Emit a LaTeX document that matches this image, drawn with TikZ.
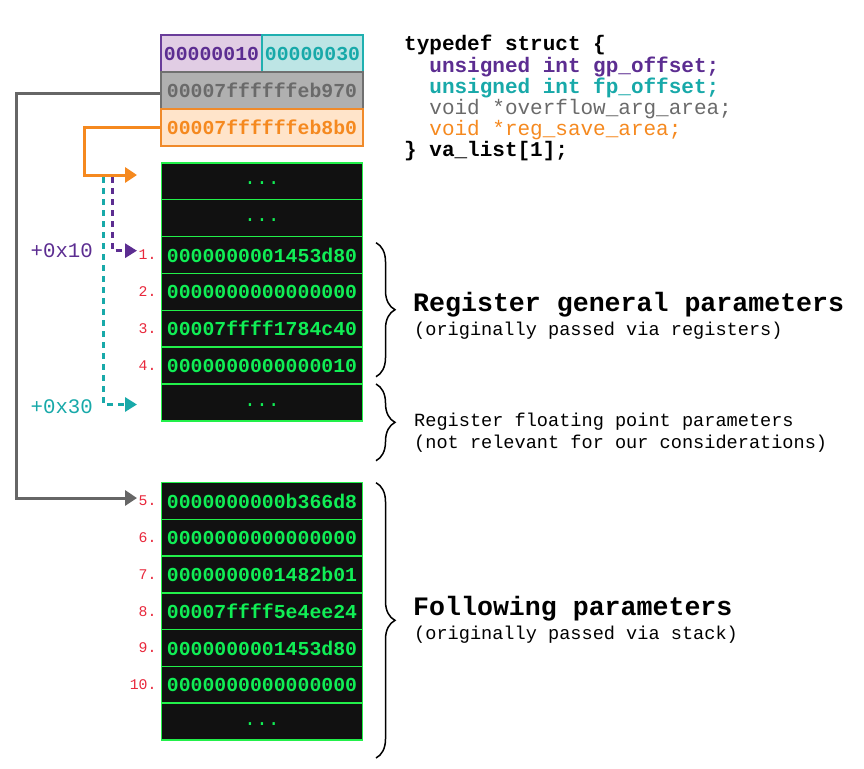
\documentclass[tikz,border=0pt]{standalone}
\usepackage{fontspec}
\setmonofont{Liberation Mono}
\usetikzlibrary{arrows.meta,decorations.pathreplacing}
\definecolor{pfill}{HTML}{E1CDE4}
\definecolor{pborder}{HTML}{6A3D9A}
\definecolor{ptext}{HTML}{5C2D91}
\definecolor{tfill}{HTML}{BDE5E5}
\definecolor{tborder}{HTML}{20B0B0}
\definecolor{ttext}{HTML}{18A9A9}
\definecolor{gfill}{HTML}{B0B0B0}
\definecolor{gborder}{HTML}{707070}
\definecolor{gtext}{HTML}{6A6A6A}
\definecolor{gline}{HTML}{666666}
\definecolor{ofill}{HTML}{FFE4CA}
\definecolor{oborder}{HTML}{F08A2A}
\definecolor{otext}{HTML}{F5891F}
\definecolor{rowblack}{HTML}{111111}
\definecolor{stackgreen}{HTML}{22F04A}
\definecolor{textgreen}{HTML}{10EE55}
\definecolor{numred}{HTML}{E8283C}
\begin{document}
\begin{tikzpicture}[x=1pt,y=-1pt,
  hexbox/.style={draw, line width=1.2pt, minimum height=37pt, inner sep=0pt,
    font=\ttfamily\bfseries\fontsize{19.8}{20}\selectfont},
  row/.style={draw=stackgreen, fill=rowblack, line width=1.6pt, minimum width=201pt,
    minimum height=36.9pt, inner sep=0pt, text=textgreen,
    font=\ttfamily\bfseries\fontsize{19.8}{20}\selectfont},
  dotrow/.style={row, font=\ttfamily\fontsize{19.8}{20}\selectfont, text height=7pt, text depth=0pt},
  num/.style={anchor=east, inner sep=0pt, text=numred, font=\ttfamily\fontsize{14.8}{15}\selectfont},
  code/.style={anchor=base west, inner sep=0pt, font=\ttfamily\bfseries\fontsize{21}{21}\selectfont},
  head/.style={anchor=base west, inner sep=0pt, font=\ttfamily\bfseries\fontsize{26.6}{27}\selectfont},
  note/.style={anchor=base west, inner sep=0pt, font=\ttfamily\fontsize{18.6}{19}\selectfont},
  offs/.style={anchor=east, inner sep=0pt, font=\ttfamily\fontsize{20.7}{21}\selectfont},
  solidarrow/.style={line width=3pt, -{Triangle[length=12pt,width=15pt]}},
  dasharrow/.style={line width=3pt, dash pattern=on 6pt off 5pt, -{Triangle[length=12pt,width=14pt]}},
  bracedeco/.style={decorate, decoration={brace, amplitude=19pt}, line width=1.5pt, black}
]
\useasboundingbox (0,0) rectangle (864,768);

% va_list boxes
\node[hexbox, draw=pborder, fill=pfill, text=ptext, minimum width=101pt] (pb) at (211.5,53.5) {00000010};
\node[hexbox, draw=tborder, fill=tfill, text=ttext, minimum width=101pt] (tb) at (312.5,53.5) {00000030};
\node[hexbox, draw=gborder, fill=gfill, text=gtext, minimum width=202pt] (gb) at (262,90.5) {00007ffffffeb970};
\node[hexbox, draw=oborder, fill=ofill, text=otext, minimum width=202pt] (ob) at (262,127.5) {00007ffffffeb8b0};

% code
\node[code] (c1) at (404,51) {typedef struct \{};
\node[code, text=ptext] (c2) at (404,72) {\ \ unsigned int gp\_offset;};
\node[code, text=ttext] (c3) at (404,93) {\ \ unsigned int fp\_offset;};
\node[code, text=gtext, font=\ttfamily\fontsize{21}{21}\selectfont] (c4) at (404,114) {\ \ void *overflow\_arg\_area;};
\node[code, text=otext, font=\ttfamily\fontsize{21}{21}\selectfont] (c5) at (404,135) {\ \ void *reg\_save\_area;};
\node[code] (c6) at (404,156) {\} va\_list[1];};

% register save area stack
\node[dotrow] (s1) at (262,181.15) {...};
\node[dotrow] (s2) at (262,218.05) {...};
\node[row] (s3) at (262,254.95) {0000000001453d80};
\node[row] (s4) at (262,291.85) {0000000000000000};
\node[row] (s5) at (262,328.75) {00007ffff1784c40};
\node[row] (s6) at (262,365.65) {0000000000000010};
\node[dotrow] (s7) at (262,402.55) {...};

\node[num] (n1) at ([xshift=-4pt]s3.west) {1.};
\node[num] (n2) at ([xshift=-4pt]s4.west) {2.};
\node[num] (n3) at ([xshift=-4pt]s5.west) {3.};
\node[num] (n4) at ([xshift=-4pt]s6.west) {4.};

% overflow area stack
\node[row] (t1) at (262,501.1) {0000000000b366d8};
\node[row] (t2) at (262,537.8) {0000000000000000};
\node[row] (t3) at (262,574.6) {0000000001482b01};
\node[row] (t4) at (262,611.3) {00007ffff5e4ee24};
\node[row] (t5) at (262,648.1) {0000000001453d80};
\node[row] (t6) at (262,684.8) {0000000000000000};
\node[dotrow] (t7) at (262,721.6) {...};

\node[num] (n5) at ([xshift=-4pt]t1.west) {5.};
\node[num] (n6) at ([xshift=-4pt]t2.west) {6.};
\node[num] (n7) at ([xshift=-4pt]t3.west) {7.};
\node[num] (n8) at ([xshift=-4pt]t4.west) {8.};
\node[num] (n9) at ([xshift=-4pt]t5.west) {9.};
\node[num] (n10) at ([xshift=-4pt]t6.west) {10.};

% offsets
\node[offs, text=ptext] (o10) at (93,251) {+0x10};
\node[offs, text=ttext] (o30) at (93,406.5) {+0x30};

% arrow endpoints
\coordinate (orT) at (137,175);
\coordinate (grT) at (137,498);
\coordinate (puS) at (112.3,177);
\coordinate (puT) at (137,250.7);
\coordinate (teS) at (103.3,177);
\coordinate (teT) at (137,404.5);

% connectors
\draw[dasharrow, ttext] (teS) |- (teT);
\draw[dasharrow, ptext] (puS) |- (puT);
\draw[solidarrow, otext] (ob.west) -| (84.5,175) -- (orT);
\draw[solidarrow, gline] ([yshift=-2.5pt]gb.west) -| (16,498) -- (grT);

% braces
\draw[bracedeco] (376,242.7) -- (376,376.7);
\draw[bracedeco] (376,384) -- (376,460.7);
\draw[bracedeco] (376,482.7) -- (376,758);

% annotations
\node[head] (h1) at (413,311.5) {Register general parameters};
\node[note] (h1b) at (414,335) {(originally passed via registers)};
\node[note] (h2) at (414,426.5) {Register floating point parameters};
\node[note] (h2b) at (414,448.3) {(not relevant for our considerations)};
\node[head] (h3) at (413,615.5) {Following parameters};
\node[note] (h3b) at (414,639) {(originally passed via stack)};
\end{tikzpicture}
\end{document}
